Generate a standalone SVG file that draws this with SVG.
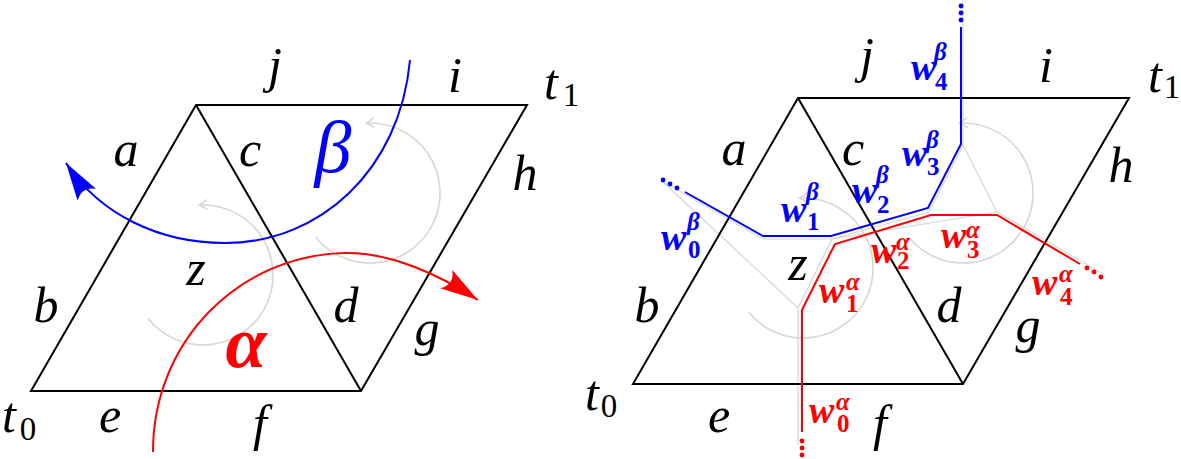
<svg xmlns="http://www.w3.org/2000/svg" width="1181" height="459" viewBox="0 0 1181 459">
<style>
.edge{fill:none;stroke:#000;stroke-width:2;stroke-linejoin:miter}
.gc{fill:none;stroke:#d6d6d6;stroke-width:1.6}
.gg{fill:none;stroke:#d6d6d6;stroke-width:1.2}
.bl{fill:none;stroke:#0000ff;stroke-width:2}
.rd{fill:none;stroke:#ff0000;stroke-width:2}
.lb{font-family:"Liberation Serif","DejaVu Serif",serif;font-style:italic;font-size:50px;text-anchor:middle;fill:#000}
.sb{font-family:"Liberation Serif","DejaVu Serif",serif;font-style:normal;font-size:33px;text-anchor:middle;fill:#000}
.big{font-family:"Liberation Serif","DejaVu Serif",serif;font-style:italic;text-anchor:middle}
.w{font-family:"Liberation Serif","DejaVu Serif",serif;font-style:italic;font-weight:bold;font-size:38px}
.ws{font-family:"Liberation Serif","DejaVu Serif",serif;font-style:italic;font-weight:bold;font-size:25px}
.wn{font-family:"Liberation Serif","DejaVu Serif",serif;font-style:normal;font-weight:bold;font-size:25px}
.B{fill:#0000ff}
.R{fill:#ff0000}
</style>
<defs>
<marker id="ahB" markerUnits="userSpaceOnUse" markerWidth="50" markerHeight="30" viewBox="-42 -15 46 30" refX="0" refY="0" orient="auto">
<path d="M0,0 L-38,-11 Q-28,0 -38,11 Z" fill="#0000ff"/>
</marker>
<marker id="ahR" markerUnits="userSpaceOnUse" markerWidth="50" markerHeight="30" viewBox="-42 -15 46 30" refX="0" refY="0" orient="auto">
<path d="M0,0 L-38,-11 Q-28,0 -38,11 Z" fill="#ff0000"/>
</marker>
<marker id="ahG" markerUnits="userSpaceOnUse" markerWidth="14" markerHeight="14" viewBox="-10 -7 12 14" refX="0" refY="0" orient="auto">
<path d="M-8,-5 Q-2,-1 0,0 Q-2,1 -8,5" fill="none" stroke="#d6d6d6" stroke-width="1.6"/>
</marker>
</defs>

<!-- LEFT PANEL -->
<g id="left-panel">
<g id="left-rotations">
<path class="gc" d="M148.6,319 A70,70 0 1 0 199.3,205.1" marker-end="url(#ahG)"/>
<path class="gc" d="M315.6,237 A70,70 0 1 0 366.3,123.1" marker-end="url(#ahG)"/>
</g>
<g id="left-edges">
<path class="edge" d="M31,391 L196,105 L527,105 L361,391 Z"/>
<path class="edge" d="M196,105 L361,391"/>
</g>
<g id="left-curves">
<path class="bl" d="M410,60 C400,170 320,243 225,243 C160,243 100,215 66,163" marker-end="url(#ahB)"/>
<path class="rd" d="M153,452 C153,340 240,255 345,253 C390,252 440,275 478,300" marker-end="url(#ahR)"/>
</g>
<g id="left-labels">
<text class="lb" x="275" y="82">j</text>
<text class="lb" x="455" y="92">i</text>
<g id="left-t1"><text class="lb" x="551" y="99">t</text><text class="sb" x="571" y="106">1</text></g>
<text class="lb" x="126" y="166">a</text>
<text class="lb" x="250" y="166">c</text>
<text class="lb" x="525" y="190">h</text>
<text class="lb" x="196" y="285">z</text>
<text class="lb" x="46" y="322">b</text>
<text class="lb" x="346" y="322">d</text>
<text class="lb" x="427" y="345">g</text>
<g id="left-t0"><text class="lb" x="9" y="432">t</text><text class="sb" x="28" y="440">0</text></g>
<text class="lb" x="110" y="432">e</text>
<text class="lb" x="260" y="440">f</text>
<text class="big B" x="333" y="172" font-size="74">β</text>
<text class="big R" x="246" y="367" font-size="74" font-weight="bold">α</text>
</g>
</g>

<!-- RIGHT PANEL -->
<g id="right-panel">
<g id="right-rotations">
<path class="gc" d="M748.6,312 A70,70 0 1 0 799.3,198.1" marker-end="url(#ahG)"/>
<path class="gc" d="M908.6,237 A70,70 0 1 0 959.3,123.1" marker-end="url(#ahG)"/>
</g>
<g id="dual-graph">
<path class="gg" d="M662,181 L763,239 L832,239 L798,308 Z M798,308 L798,445 M832,239 L929,212 L963,145 L997,212 Z M963,145 L963,0 M997,212 L1103,274"/>
</g>
<g id="right-edges">
<path class="edge" d="M633,384 L798,98 L1129,98 L963,384 Z"/>
<path class="edge" d="M798,98 L963,384"/>
</g>
<g id="paths">
<path class="bl" d="M685,192 L763,236 L831,236 L928,208 L961,144 L961,27"/>
<g class="B"><circle cx="663" cy="180" r="2.4"/><circle cx="670" cy="184" r="2.4"/><circle cx="677" cy="188" r="2.4"/>
<circle cx="961" cy="6" r="2.4"/><circle cx="961" cy="13" r="2.4"/><circle cx="961" cy="20" r="2.4"/></g>
<path class="rd" d="M802,432 L802,310 L835,244 L931,215 L997,215 L1080,264"/>
<g class="R"><circle cx="802" cy="441" r="2.4"/><circle cx="802" cy="448" r="2.4"/><circle cx="802" cy="455" r="2.4"/>
<circle cx="1087" cy="268" r="2.4"/><circle cx="1094" cy="272" r="2.4"/><circle cx="1101" cy="277" r="2.4"/></g>
</g>
<g id="right-labels">
<text class="lb" x="867" y="72">j</text>
<text class="lb" x="1046" y="82">i</text>
<g id="right-t1"><text class="lb" x="1155" y="92">t</text><text class="sb" x="1172" y="98">1</text></g>
<text class="lb" x="734" y="165">a</text>
<text class="lb" x="853" y="165">c</text>
<text class="lb" x="1121" y="182">h</text>
<text class="lb" x="798" y="280">z</text>
<text class="lb" x="647" y="322">b</text>
<text class="lb" x="949" y="322">d</text>
<text class="lb" x="1028" y="342">g</text>
<g id="right-t0"><text class="lb" x="592" y="410">t</text><text class="sb" x="609" y="417">0</text></g>
<text class="lb" x="719" y="432">e</text>
<text class="lb" x="880" y="440">f</text>
</g>
<g id="w-labels">
<g class="B"><text class="w" x="661" y="250">w</text><text class="ws" x="687" y="230">β</text><text class="wn" x="688" y="258">0</text></g>
<g class="B"><text class="w" x="781" y="222">w</text><text class="ws" x="806" y="200">β</text><text class="wn" x="807" y="230">1</text></g>
<g class="B"><text class="w" x="852" y="203">w</text><text class="ws" x="876" y="183">β</text><text class="wn" x="877" y="213">2</text></g>
<g class="B"><text class="w" x="902" y="166">w</text><text class="ws" x="926" y="148">β</text><text class="wn" x="927" y="175">3</text></g>
<g class="B"><text class="w" x="911" y="80">w</text><text class="ws" x="934" y="60">β</text><text class="wn" x="935" y="90">4</text></g>
<g class="R"><text class="w" x="809" y="423">w</text><text class="ws" x="836" y="410">α</text><text class="wn" x="837" y="432">0</text></g>
<g class="R"><text class="w" x="819" y="303">w</text><text class="ws" x="846" y="290">α</text><text class="wn" x="846" y="312">1</text></g>
<g class="R"><text class="w" x="871" y="263">w</text><text class="ws" x="896" y="250">α</text><text class="wn" x="897" y="269">2</text></g>
<g class="R"><text class="w" x="941" y="248">w</text><text class="ws" x="966" y="238">α</text><text class="wn" x="967" y="258">3</text></g>
<g class="R"><text class="w" x="1032" y="295">w</text><text class="ws" x="1059" y="282">α</text><text class="wn" x="1060" y="305">4</text></g>
</g>
</g>
</svg>
